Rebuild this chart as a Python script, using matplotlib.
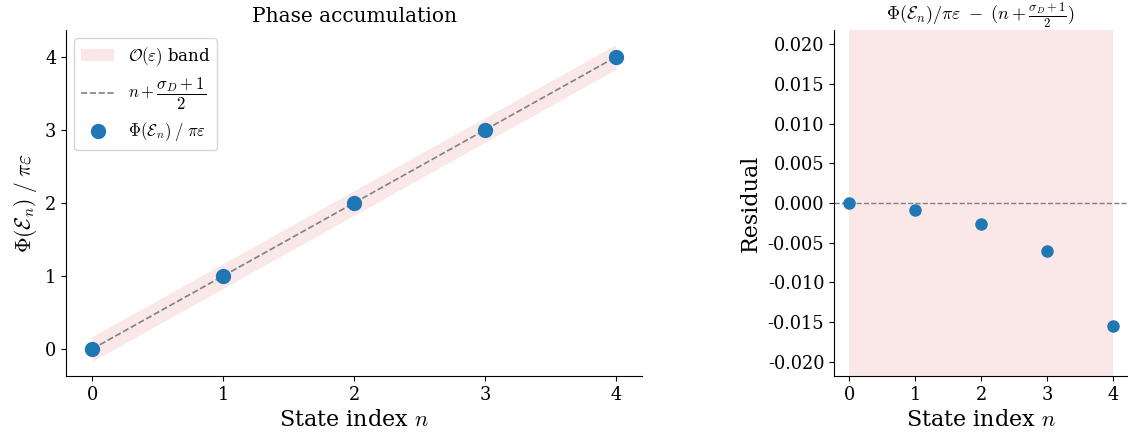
import numpy as np
import matplotlib as mpl
mpl.use("Agg")
import matplotlib.pyplot as plt

plt.rcParams['font.family'] = 'DejaVu Serif'
plt.rcParams['mathtext.fontset'] = 'cm'
plt.rcParams['axes.unicode_minus'] = False

# Datos
n = np.array([0, 1, 2, 3, 4])
fase = np.array([0.0, 1.0, 2.0, 3.0, 4.0])
prediccion = np.array([0.0, 1.0, 2.0, 3.0, 4.0])
residuo = np.array([0.0, -0.0009, -0.0026, -0.0061, -0.0155])
eps = 0.17

fig = plt.figure(figsize=(11.3, 4.43), dpi=100)
ax1 = fig.add_axes([66 / 1130, 1 - 376 / 443, 576 / 1130, 346 / 443])
ax2 = fig.add_axes([834 / 1130, 1 - 376 / 443, 293 / 1130, 346 / 443])

# Panel izquierdo: acumulación de fase
ax1.fill_between(n, prediccion - eps, prediccion + eps, color="tab:red", alpha=0.1,
                 linewidth=0, label=r"$\mathcal{O}(\varepsilon)$ band")
ax1.plot(n, prediccion, "--", color="gray", linewidth=1.2, label=r"$n+\dfrac{\sigma_D+1}{2}$")
ax1.plot(n, fase, "o", color="tab:blue", markersize=10, label=r"$\Phi(\mathcal{E}_n)\;/\;\pi\varepsilon$")
ax1.set_xlim(-0.2, 4.2)
ax1.set_ylim(-0.37, 4.37)
ax1.set_xticks(n)
ax1.set_yticks([0, 1, 2, 3, 4])
ax1.set_title("Phase accumulation", fontsize=14.5)
ax1.set_xlabel(r"State index $n$", fontsize=16)
ax1.set_ylabel(r"$\Phi(\mathcal{E}_n)\;/\;\pi\varepsilon$", fontsize=15.5)
ax1.tick_params(labelsize=12.8)
ax1.legend(loc="upper left", fontsize=12)
ax1.spines["top"].set_visible(False)
ax1.spines["right"].set_visible(False)

# Panel derecho: residuo
ax2.axvspan(n[0], n[-1], color="tab:red", alpha=0.1, linewidth=0)
ax2.axhline(0, linestyle="--", color="gray", linewidth=1)
ax2.plot(n, residuo, "o", color="tab:blue", markersize=8)
ax2.set_xlim(-0.23, 4.21)
ax2.set_ylim(-0.0218, 0.0218)
ax2.set_xticks(n)
ax2.set_yticks(np.arange(-0.020, 0.0201, 0.005))
ax2.set_title(r"$\Phi(\mathcal{E}_n)/\pi\varepsilon\ -\ (n+\frac{\sigma_D+1}{2})$", fontsize=13)
ax2.set_xlabel(r"State index $n$", fontsize=16)
ax2.set_ylabel("Residual", fontsize=16)
ax2.tick_params(labelsize=12.8)
ax2.spines["top"].set_visible(False)
ax2.spines["right"].set_visible(False)

fig.savefig("out.png", dpi=100)
